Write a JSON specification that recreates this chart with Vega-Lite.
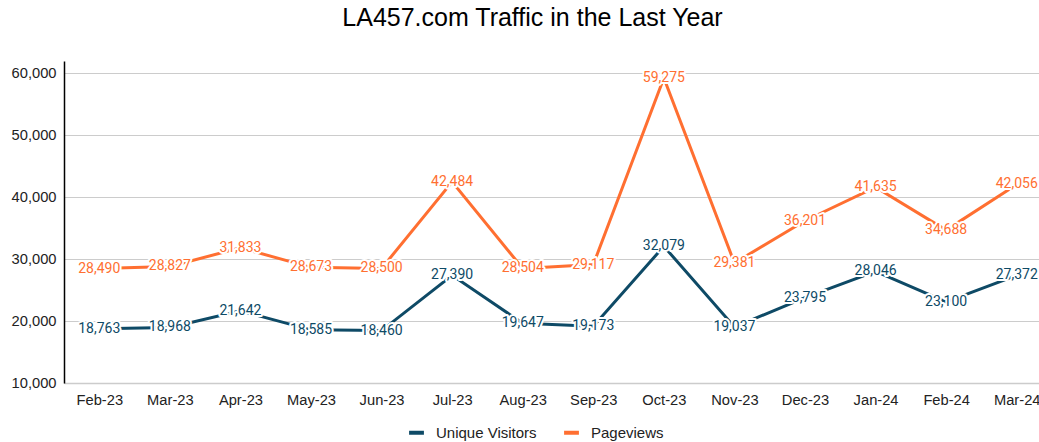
{
  "$schema": "https://vega.github.io/schema/vega-lite/v6.json",
  "width": 975,
  "height": 322,
  "autosize": "none",
  "padding": {"left": 64, "top": 61, "right": 0, "bottom": 59},
  "background": "white",
  "title": {
    "text": "LA457.com Traffic in the Last Year",
    "font": "Liberation Sans",
    "fontSize": 25,
    "fontWeight": "normal",
    "color": "#000000",
    "anchor": "middle",
    "baseline": "alphabetic",
    "offset": 10,
    "dx": -19
  },
  "config": {
    "view": {"stroke": null},
    "axis": {"labelFont": "Liberation Sans", "labelFontSize": 14.7, "labelColor": "#222222", "ticks": false, "title": null},
    "legend": {"labelFont": "Liberation Sans", "labelFontSize": 15, "labelColor": "#222222"}
  },
  "data": {
    "values": [
      {"month": "Feb-23", "series": "Unique Visitors", "value": 18763},
      {"month": "Mar-23", "series": "Unique Visitors", "value": 18968},
      {"month": "Apr-23", "series": "Unique Visitors", "value": 21642},
      {"month": "May-23", "series": "Unique Visitors", "value": 18585},
      {"month": "Jun-23", "series": "Unique Visitors", "value": 18460},
      {"month": "Jul-23", "series": "Unique Visitors", "value": 27390},
      {"month": "Aug-23", "series": "Unique Visitors", "value": 19647},
      {"month": "Sep-23", "series": "Unique Visitors", "value": 19173},
      {"month": "Oct-23", "series": "Unique Visitors", "value": 32079},
      {"month": "Nov-23", "series": "Unique Visitors", "value": 19037},
      {"month": "Dec-23", "series": "Unique Visitors", "value": 23795},
      {"month": "Jan-24", "series": "Unique Visitors", "value": 28046},
      {"month": "Feb-24", "series": "Unique Visitors", "value": 23100},
      {"month": "Mar-24", "series": "Unique Visitors", "value": 27372},
      {"month": "Feb-23", "series": "Pageviews", "value": 28490},
      {"month": "Mar-23", "series": "Pageviews", "value": 28827},
      {"month": "Apr-23", "series": "Pageviews", "value": 31833},
      {"month": "May-23", "series": "Pageviews", "value": 28673},
      {"month": "Jun-23", "series": "Pageviews", "value": 28500},
      {"month": "Jul-23", "series": "Pageviews", "value": 42484},
      {"month": "Aug-23", "series": "Pageviews", "value": 28504},
      {"month": "Sep-23", "series": "Pageviews", "value": 29117},
      {"month": "Oct-23", "series": "Pageviews", "value": 59275},
      {"month": "Nov-23", "series": "Pageviews", "value": 29381},
      {"month": "Dec-23", "series": "Pageviews", "value": 36201},
      {"month": "Jan-24", "series": "Pageviews", "value": 41635},
      {"month": "Feb-24", "series": "Pageviews", "value": 34688},
      {"month": "Mar-24", "series": "Pageviews", "value": 42056}
    ]
  },
  "encoding": {
    "x": {
      "field": "month",
      "type": "ordinal",
      "sort": null,
      "scale": {"type": "point", "range": [0, 988], "padding": 0.5},
      "axis": {"labelAngle": 0, "labelPadding": 9, "domainColor": "#cccccc", "domainWidth": 1.5, "grid": false}
    },
    "y": {
      "field": "value",
      "type": "quantitative",
      "scale": {"domain": [10000, 62000], "nice": false, "zero": false},
      "axis": {"values": [10000, 20000, 30000, 40000, 50000, 60000], "format": ",.0f", "labelPadding": 8, "domainColor": "#000000", "domainWidth": 1.5, "gridColor": "#cccccc", "gridWidth": 1.2}
    },
    "color": {
      "field": "series",
      "type": "nominal",
      "scale": {"domain": ["Unique Visitors", "Pageviews"], "range": ["#0e4a66", "#ff6f31"]},
      "legend": {
        "title": null,
        "orient": "none",
        "direction": "horizontal",
        "legendX": 343,
        "legendY": 362,
        "symbolType": "stroke",
        "symbolStrokeWidth": 4,
        "symbolSize": 220,
        "labelOffset": 10,
        "columnPadding": 19
      }
    }
  },
  "layer": [
    {"mark": {"type": "line", "strokeWidth": 3}},
    {"mark": {"type": "text", "font": "Roboto", "fontSize": 14, "baseline": "middle", "align": "center", "stroke": "white", "strokeWidth": 4, "strokeJoin": "round"}, "encoding": {"text": {"field": "value", "type": "quantitative", "format": ","}, "color": {"value": "white"}}},
    {"mark": {"type": "text", "font": "Roboto", "fontSize": 14, "baseline": "middle", "align": "center"}, "encoding": {"text": {"field": "value", "type": "quantitative", "format": ","}, "color": {"field": "series", "type": "nominal", "scale": {"domain": ["Unique Visitors", "Pageviews"], "range": ["#1d5673", "#ff7a45"]}, "legend": null}}}
  ]
}
